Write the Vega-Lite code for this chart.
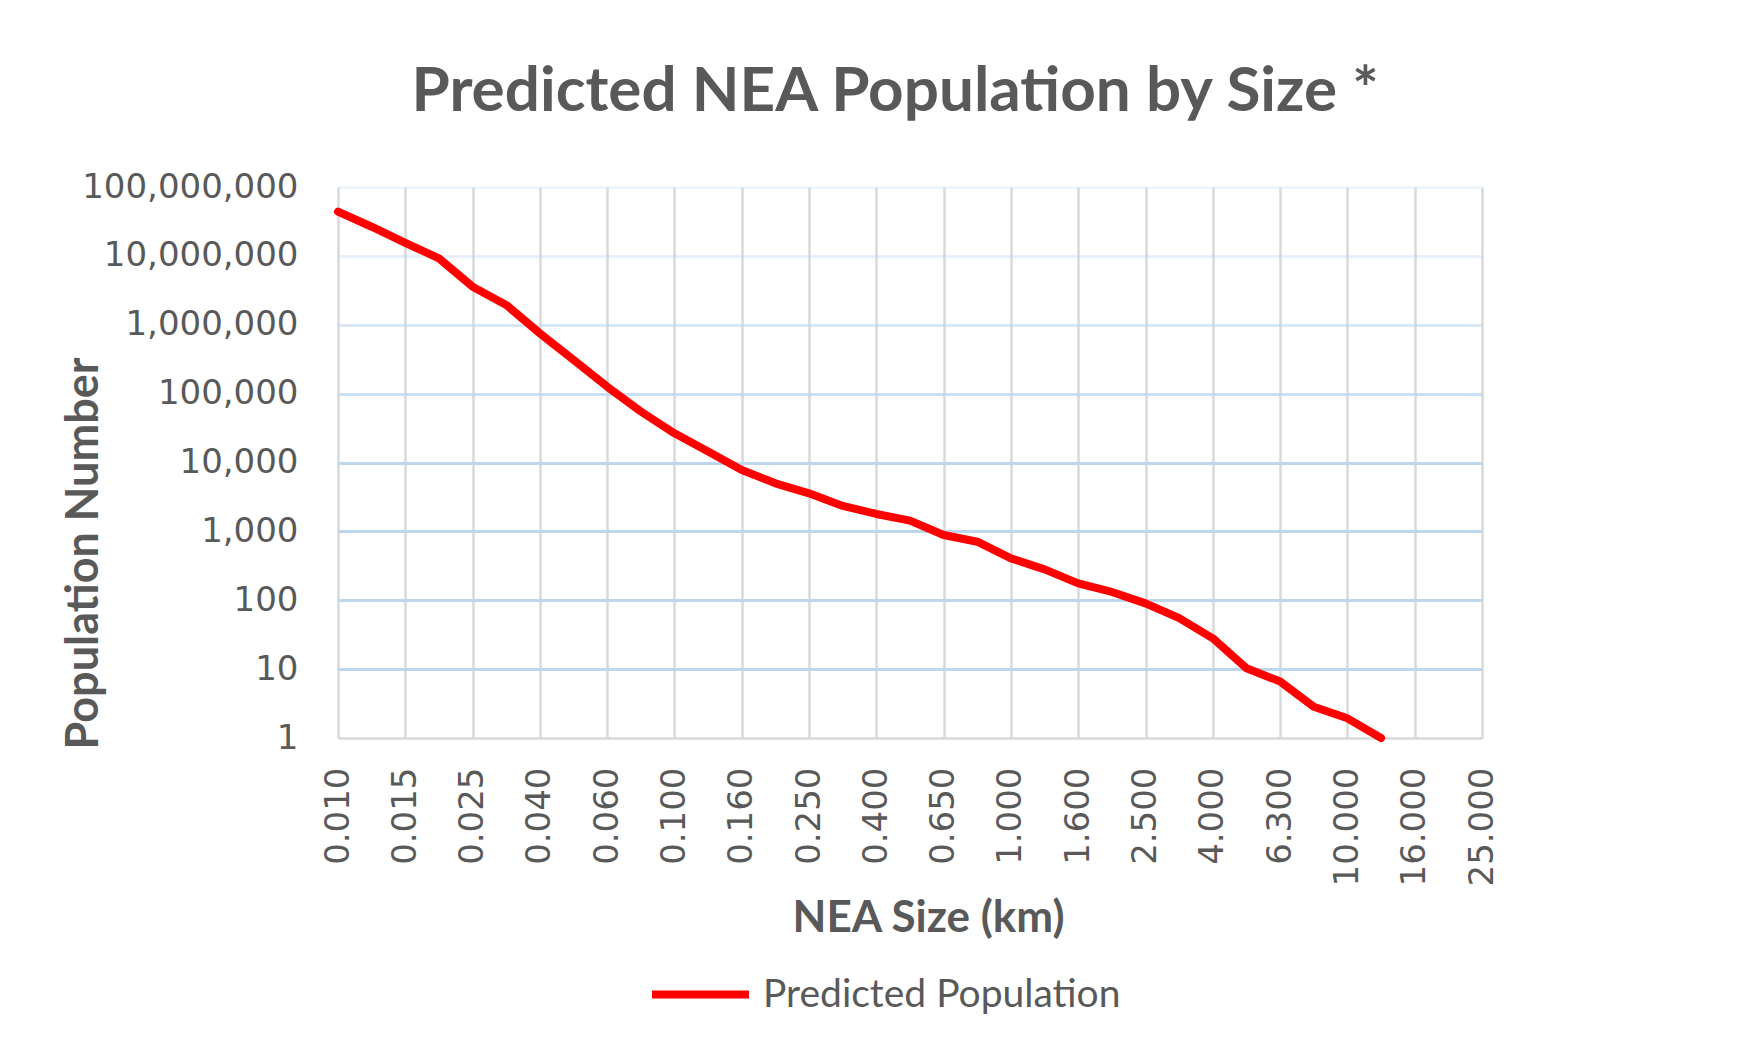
{
  "$schema": "https://vega.github.io/schema/vega-lite/v6.json",
  "width": 1144,
  "height": 551,
  "autosize": {"type": "none"},
  "padding": {"left": 338, "top": 187, "right": 261, "bottom": 305},
  "background": "#ffffff",
  "title": {
    "text": "Predicted NEA Population by Size *",
    "font": "Lato",
    "fontWeight": "bold",
    "fontSize": 62,
    "color": "#595959",
    "anchor": "middle",
    "frame": "group",
    "dx": -15,
    "offset": 46
  },
  "config": {
    "view": {"stroke": null},
    "axis": {"labelColor": "#595959", "titleColor": "#595959"}
  },
  "data": {
    "values": [
      {"size": "0.010", "population": 43800000, "series": "Predicted Population"},
      {"size": "0.013", "population": 26500000, "series": "Predicted Population"},
      {"size": "0.015", "population": 15500000, "series": "Predicted Population"},
      {"size": "0.020", "population": 9200000, "series": "Predicted Population"},
      {"size": "0.025", "population": 3570000, "series": "Predicted Population"},
      {"size": "0.030", "population": 1940000, "series": "Predicted Population"},
      {"size": "0.040", "population": 750000, "series": "Predicted Population"},
      {"size": "0.050", "population": 308000, "series": "Predicted Population"},
      {"size": "0.060", "population": 126000, "series": "Predicted Population"},
      {"size": "0.080", "population": 55000, "series": "Predicted Population"},
      {"size": "0.100", "population": 26500, "series": "Predicted Population"},
      {"size": "0.130", "population": 14400, "series": "Predicted Population"},
      {"size": "0.160", "population": 7800, "series": "Predicted Population"},
      {"size": "0.200", "population": 4990, "series": "Predicted Population"},
      {"size": "0.250", "population": 3570, "series": "Predicted Population"},
      {"size": "0.300", "population": 2340, "series": "Predicted Population"},
      {"size": "0.400", "population": 1790, "series": "Predicted Population"},
      {"size": "0.500", "population": 1430, "series": "Predicted Population"},
      {"size": "0.650", "population": 886, "series": "Predicted Population"},
      {"size": "0.800", "population": 708, "series": "Predicted Population"},
      {"size": "1.000", "population": 406, "series": "Predicted Population"},
      {"size": "1.300", "population": 281, "series": "Predicted Population"},
      {"size": "1.600", "population": 176, "series": "Predicted Population"},
      {"size": "2.000", "population": 132, "series": "Predicted Population"},
      {"size": "2.500", "population": 90, "series": "Predicted Population"},
      {"size": "3.000", "population": 55, "series": "Predicted Population"},
      {"size": "4.000", "population": 28, "series": "Predicted Population"},
      {"size": "5.000", "population": 10.3, "series": "Predicted Population"},
      {"size": "6.300", "population": 6.6, "series": "Predicted Population"},
      {"size": "8.000", "population": 2.85, "series": "Predicted Population"},
      {"size": "10.000", "population": 1.93, "series": "Predicted Population"},
      {"size": "13.000", "population": 1, "series": "Predicted Population"}
    ]
  },
  "mark": {"type": "line", "strokeWidth": 8, "strokeJoin": "round", "strokeCap": "round"},
  "encoding": {
    "x": {
      "field": "size",
      "type": "ordinal",
      "scale": {
        "type": "point",
        "padding": 0,
        "domain": ["0.010", "0.013", "0.015", "0.020", "0.025", "0.030", "0.040", "0.050", "0.060", "0.080", "0.100", "0.130", "0.160", "0.200", "0.250", "0.300", "0.400", "0.500", "0.650", "0.800", "1.000", "1.300", "1.600", "2.000", "2.500", "3.000", "4.000", "5.000", "6.300", "8.000", "10.000", "13.000", "16.000", "20.000", "25.000"]
      },
      "axis": {
        "title": "NEA Size (km)",
        "values": ["0.010", "0.015", "0.025", "0.040", "0.060", "0.100", "0.160", "0.250", "0.400", "0.650", "1.000", "1.600", "2.500", "4.000", "6.300", "10.000", "16.000", "25.000"],
        "labelAngle": -90,
        "labelFont": "DejaVu Sans",
        "labelFontSize": 34,
        "labelPadding": 29,
        "labelLimit": 0,
        "ticks": false,
        "domain": true,
        "domainColor": "#d9d9d9",
        "domainWidth": 2.5,
        "grid": true,
        "gridColor": "#d9d9d9",
        "gridWidth": 2.5,
        "titleFont": "Lato",
        "titleFontWeight": "bold",
        "titleFontSize": 44,
        "titleX": 590,
        "titleY": 180,
        "titleBaseline": "middle",
        "titleAlign": "center"
      }
    },
    "y": {
      "field": "population",
      "type": "quantitative",
      "scale": {"type": "log", "domain": [1, 100000000], "nice": false},
      "axis": {
        "title": "Population Number",
        "values": [1, 10, 100, 1000, 10000, 100000, 1000000, 10000000, 100000000],
        "format": ",.0f",
        "labelFont": "DejaVu Sans",
        "labelFontSize": 34,
        "labelPadding": 40,
        "labelLimit": 0,
        "ticks": false,
        "domain": false,
        "grid": true,
        "gridColor": "#bdd7ee",
        "gridWidth": 3,
        "gridOpacity": {"condition": [
          {"test": "datum.value >= 100000000", "value": 0.25},
          {"test": "datum.value >= 10000000", "value": 0.35},
          {"test": "datum.value >= 1000000", "value": 0.6},
          {"test": "datum.value >= 100000", "value": 0.8},
          {"test": "datum.value <= 1", "value": 0}
        ], "value": 1},
        "titleFont": "Lato",
        "titleFontWeight": "bold",
        "titleFontSize": 45,
        "titleX": -255,
        "titleY": 366,
        "titleBaseline": "middle",
        "titleAlign": "center"
      }
    },
    "color": {
      "field": "series",
      "type": "nominal",
      "scale": {"range": ["#ff0000"]},
      "legend": {
        "title": null,
        "orient": "none",
        "legendX": 310,
        "legendY": 755,
        "symbolType": "stroke",
        "symbolSize": 9400,
        "symbolStrokeWidth": 8,
        "labelFont": "Lato",
        "labelFontSize": 39,
        "labelColor": "#595959",
        "labelOffset": 10,
        "labelLimit": 0
      }
    }
  }
}
